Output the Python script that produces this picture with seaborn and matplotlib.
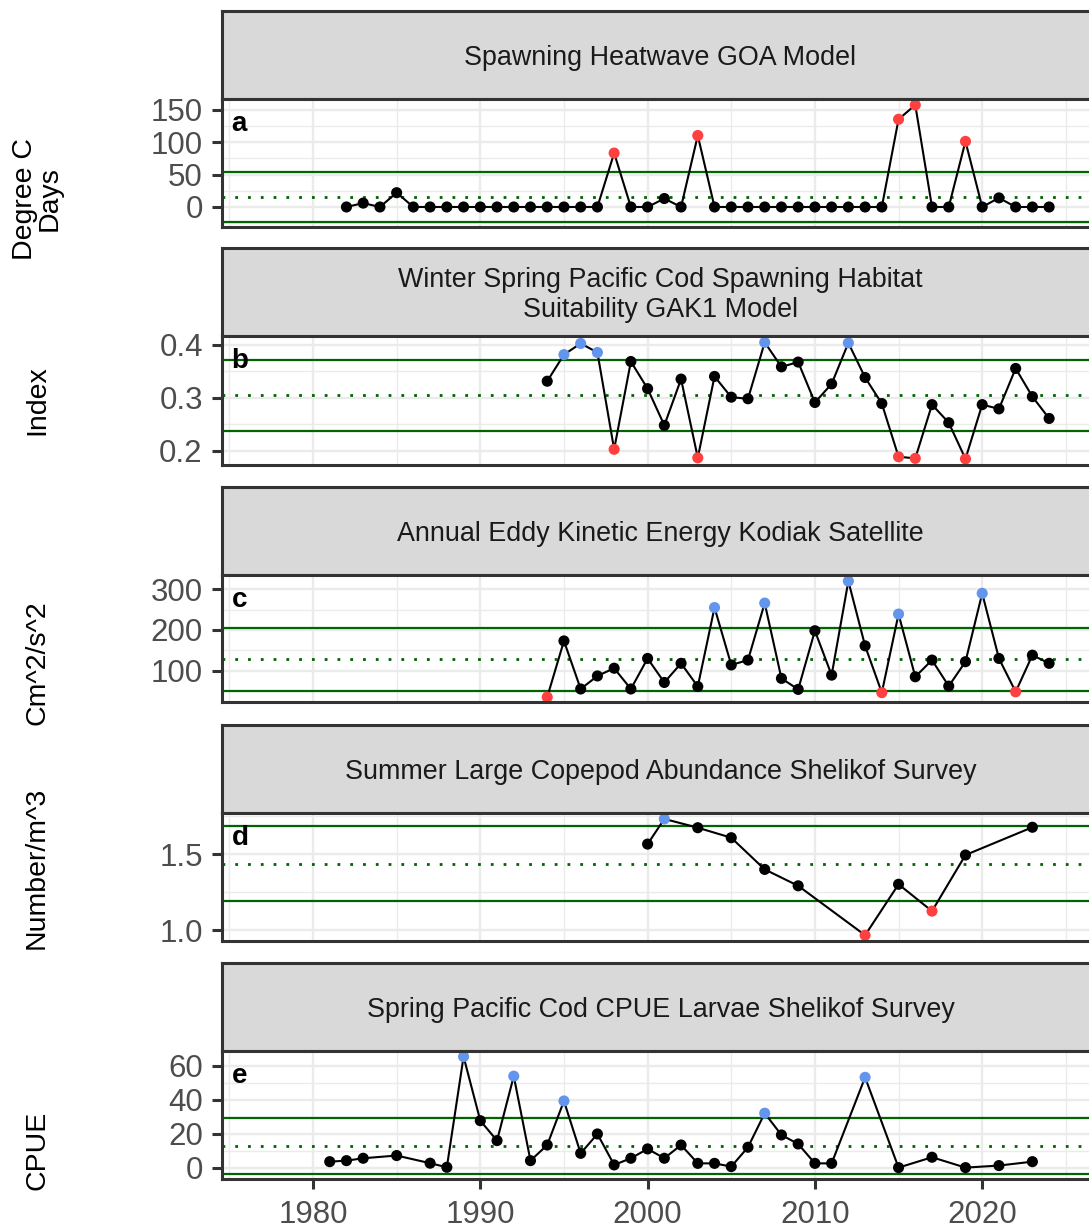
import numpy as np
import pandas as pd
import matplotlib
matplotlib.use("Agg")
import matplotlib.pyplot as plt
import seaborn as sns

sns.set_style("white")
plt.rcParams['font.family'] = ['Liberation Sans', 'DejaVu Sans']

# ---------------- data ----------------
titles = [
    "Spawning Heatwave GOA Model",
    "Winter Spring Pacific Cod Spawning Habitat\nSuitability GAK1 Model",
    "Annual Eddy Kinetic Energy Kodiak Satellite",
    "Summer Large Copepod Abundance Shelikof Survey",
    "Spring Pacific Cod CPUE Larvae Shelikof Survey",
]
ylabels = ["Degree C\nDays", "Index", "Cm^2/s^2", "Number/m^3", "CPUE"]
letters = ["a", "b", "c", "d", "e"]

years_a = list(range(1982, 2025))
values_a = [0, 6, 0, 22, 0, 0, 0, 0, 0, 0, 0, 0, 0, 0, 0, 0,
            83, 0, 0, 13, 0, 110, 0, 0, 0, 0, 0, 0, 0, 0, 0, 0, 0,
            135, 157, 0, 0, 101, 0, 14, 0, 0, 0]

years_b = list(range(1994, 2025))
values_b = [0.331, 0.381, 0.402, 0.385, 0.203, 0.368, 0.317, 0.248, 0.335, 0.187,
            0.340, 0.301, 0.298, 0.404, 0.358, 0.367, 0.291, 0.326, 0.403, 0.338,
            0.289, 0.189, 0.186, 0.287, 0.253, 0.185, 0.287, 0.279, 0.355, 0.302,
            0.261]

years_c = list(range(1994, 2025))
values_c = [35, 173, 55, 87, 106, 55, 130, 71, 118, 61,
            255, 114, 126, 266, 81, 54, 198, 89, 320, 161,
            46, 239, 85, 126, 62, 122, 290, 130, 48, 138, 118]

years_d = [2000, 2001, 2003, 2005, 2007, 2009, 2013, 2015, 2017, 2019, 2023]
values_d = [1.568, 1.734, 1.676, 1.61, 1.401, 1.293, 0.967, 1.303, 1.126, 1.496, 1.679]

years_e = [1981, 1982, 1983, 1985, 1987, 1988, 1989, 1990, 1991, 1992,
           1993, 1994, 1995, 1996, 1997, 1998, 1999, 2000, 2001, 2002,
           2003, 2004, 2005, 2006, 2007, 2008, 2009, 2010, 2011, 2013,
           2015, 2017, 2019, 2021, 2023]
values_e = [3.7, 4.3, 5.7, 7.3, 2.8, 0.4, 65.5, 27.8, 16.1, 54.0,
            4.3, 13.5, 39.4, 8.6, 20.0, 1.8, 5.7, 11.2, 5.7, 13.5,
            2.7, 2.7, 0.8, 12.2, 32.2, 19.4, 14.1, 2.7, 2.7, 53.3,
            0.2, 6.3, 0.2, 1.4, 3.7]

# reference lines: upper (mean + sd), mean, lower (mean - sd)
upper_lines = [54.3, 0.371, 204, 1.687, 29.6]
mean_lines = [14.9, 0.305, 127.5, 1.44, 12.9]
lower_lines = [-23.5, 0.238, 51, 1.191, -3.5]

# whether a high value is "bad" (red) instead of "good" (blue)
high_is_red = [True, False, False, False, False]

ytick_vals = [[0, 50, 100, 150], [0.2, 0.3, 0.4], [100, 200, 300], [1.0, 1.5], [0, 20, 40, 60]]
ytick_labs = [["0", "50", "100", "150"], ["0.2", "0.3", "0.4"], ["100", "200", "300"],
              ["1.0", "1.5"], ["0", "20", "40", "60"]]
yminor_vals = [[-25, 25, 75, 125], [0.25, 0.35], [50, 150, 250], [1.25, 1.75], [10, 30, 50]]
ylims = [(-30.8, 166.2), (0.1735, 0.416), (23, 335), (0.929, 1.773), (-6.5, 68.8)]

xticks = [1980, 1990, 2000, 2010, 2020]
xminor = [1975, 1985, 1995, 2005, 2015, 2025]

years_all = [years_a, years_b, years_c, years_d, years_e]
values_all = [values_a, values_b, values_c, values_d, values_e]

# ---------------- layout ----------------
W, H = 1089, 1231
fig = plt.figure(figsize=(W / 100, H / 100), dpi=100)
L, R = 222, 1099
x_left = 1980 - (313 - L) / 16.73
x_right = 1980 + (R - 313) / 16.73
strip_tops = [11, 248, 487, 725, 963]
strip_h = 88
panel_bottoms = [227, 465, 702, 941, 1179]
ylabel_centers = [199, 400, 663, 868, 1150]

border_col = "#333333"
grid_col = "#EBEBEB"
palette = {"normal": "black", "red": "#FF4040", "blue": "#6495ED"}

for i in range(5):
    st = strip_tops[i]
    pt = st + strip_h
    pb = panel_bottoms[i]
    # strip
    sax = fig.add_axes([L / W, 1 - pt / H, (R - L) / W, strip_h / H])
    sax.set_facecolor("#D9D9D9")
    sax.set_xticks([]); sax.set_yticks([])
    for sp in sax.spines.values():
        sp.set_color(border_col); sp.set_linewidth(2.2)
    sax.text(0.5, 0.47, titles[i], ha="center", va="center", fontsize=19.4,
             color="#1A1A1A", transform=sax.transAxes, linespacing=1.2)

    # panel
    ax = fig.add_axes([L / W, 1 - pb / H, (R - L) / W, (pb - pt) / H])
    ax.set_facecolor("white")
    df = pd.DataFrame({"year": years_all[i], "value": values_all[i]})
    up, lo = upper_lines[i], lower_lines[i]
    status = []
    for v in df["value"]:
        if v > up:
            status.append("red" if high_is_red[i] else "blue")
        elif v < lo:
            status.append("blue" if high_is_red[i] else "red")
        else:
            status.append("normal")
    df["status"] = status

    ax.axhline(up, color="#006400", lw=1.6, zorder=2)
    ax.axhline(lo, color="#006400", lw=1.6, zorder=2)
    ax.axhline(mean_lines[i], color="#006400", lw=2.0, ls=(0, (1, 3.6)), zorder=2)

    sns.lineplot(data=df, x="year", y="value", color="black", linewidth=1.5,
                 estimator=None, sort=True, ax=ax, zorder=3)
    sns.scatterplot(data=df, x="year", y="value", hue="status", palette=palette,
                    s=64, linewidth=0, legend=False, ax=ax, zorder=4, clip_on=True)

    ax.set_xlim(x_left, x_right)
    ax.set_ylim(*ylims[i])
    ax.set_yticks(ytick_vals[i], ytick_labs[i])
    ax.set_yticks(yminor_vals[i], minor=True)
    ax.set_xticks(xticks)
    ax.set_xticks(xminor, minor=True)
    ax.grid(which="major", color=grid_col, lw=1.7, zorder=0)
    ax.grid(which="minor", color=grid_col, lw=1.0, zorder=0)
    ax.set_axisbelow(True)
    ax.tick_params(which="minor", length=0)
    ax.tick_params(axis="y", which="major", length=7.3, width=2.2, color=border_col,
                   labelcolor="#4D4D4D", labelsize=22.5, pad=6.5, left=True)
    if i == 4:
        ax.set_xticks(xticks, [str(x) for x in xticks])
        ax.tick_params(axis="x", which="major", length=7.3, width=2.2, color=border_col,
                       labelcolor="#4D4D4D", labelsize=22.5, pad=8, bottom=True)
    else:
        ax.tick_params(axis="x", which="major", length=0, labelbottom=False)
    for sp in ax.spines.values():
        sp.set_color(border_col); sp.set_linewidth(2.2); sp.set_zorder(5)
    ax.set_xlabel(""); ax.set_ylabel("")
    ax.annotate(letters[i], xy=(0, 1), xycoords="axes fraction", xytext=(7, -18),
                textcoords="offset points", ha="left", va="center", fontsize=20,
                fontweight="bold", color="black")

    fig.text(37 / W, 1 - ylabel_centers[i] / H, ylabels[i], rotation=90,
             ha="center", va="center", fontsize=20.5, color="black", linespacing=0.95)

fig.savefig("out.png", dpi=100)
